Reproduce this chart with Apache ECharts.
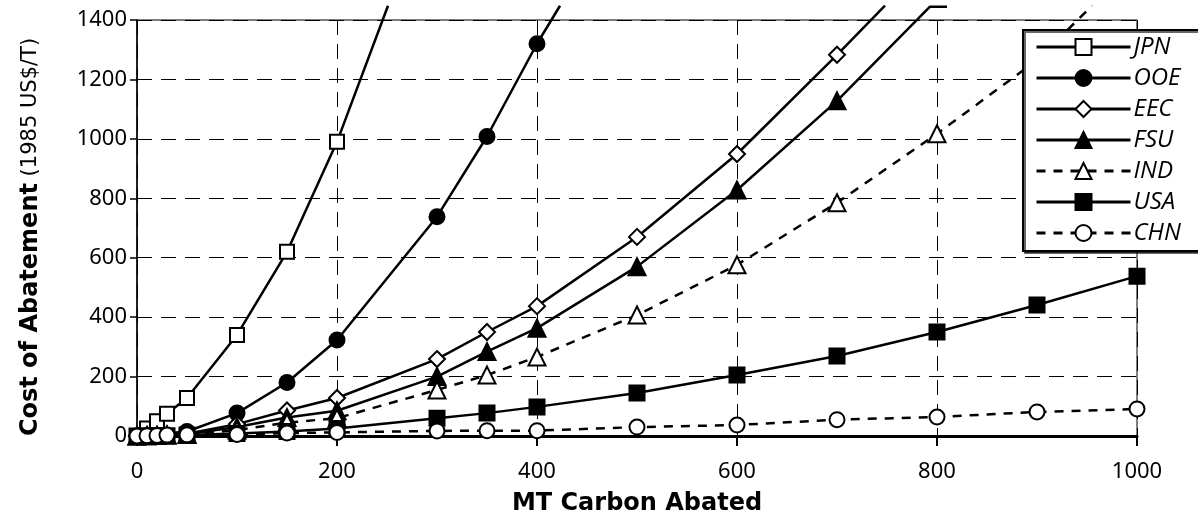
<!DOCTYPE html>
<html>
<head>
<meta charset="utf-8">
<title>Cost of Abatement</title>
<script src="https://cdn.jsdelivr.net/npm/echarts@6/dist/echarts.min.js"></script>
<style>
    html,body{margin:0;padding:0;background:#fff;}
    #main{width:1198px;height:529px;}
</style>
</head>
<body>
<div id="main"></div>
<script>
//data (points above 1400 are where a line leaves the top)
var names=['JPN','OOE','EEC','FSU','IND','USA','CHN'];
var xTicks=[0,200,400,600,800,1000];
var yTicks=[0,200,400,600,800,1000,1200,1400];

var jpnX=[0,10,20,30,50,100,150,200,251];
var jpnY=[0,25,50,75,128,340,620,990,1448];
var ooeX=[0,50,100,150,200,300,350,400,423];
var ooeY=[0,15,77,180,323,738,1008,1320,1448];
var eecX=[0,10,20,30,50,100,150,200,300,350,400,500,600,700,748];
var eecY=[0,1,2,3,8,40,86,128,259,350,437,670,949,1283,1448];
var fsuX=[0,10,20,30,50,100,150,200,300,350,400,500,600,700,793,810];
var fsuY=[0,1,2,3,6,30,62,85,200,284,363,570,828,1128,1445,1445];
var indX=[0,10,20,30,50,100,150,200,300,350,400,500,600,700,800,900,955];
var indY=[0,1,2,3,5,20,45,60,155,205,266,407,576,785,1017,1265,1448];
var usaX=[0,10,20,30,50,100,150,200,300,350,400,500,600,700,800,900,1000];
var usaY=[0,0,1,1,3,8,15,25,60,77,98,145,205,269,350,441,538];
var chnX=[0,10,20,30,50,100,150,200,300,350,400,500,600,700,800,900,1000];
var chnY=[0,1,2,3,4,5,10,12,17,18,18,30,37,55,64,81,91];

//pair up x/y, no marker for off-chart points
function pts(xs,ys){
    var out=[];
    for(var i=0;i<xs.length;i++){
        if(ys[i]>yTicks[yTicks.length-1]){
            out.push({value:[xs[i],ys[i]],symbol:'none'});
        }else{
            out.push([xs[i],ys[i]]);
        }
    }
    return out;
}

function mkSeries(name,xs,ys,symbol,size,fill,dashed){
    return {
        name:name,
        type:'line',
        clip:false,
        data:pts(xs,ys),
        symbol:symbol,
        symbolSize:size,
        showAllSymbol:true,
        lineStyle:{color:'#000',width:2.5,type:dashed?[9,8]:'solid'},
        itemStyle:{color:fill,borderColor:'#000',borderWidth:2},
        emphasis:{disabled:true}
    };
}

var myChart=echarts.init(document.getElementById('main'));
var option={
    backgroundColor:'#fff',
    animation:false,
    grid:{left:137,right:61,top:20,bottom:93,show:true,borderColor:'#000',borderWidth:1},
    legend:{
        orient:'vertical',
        left:1023,
        top:30,
        padding:[5,20,6,12],
        itemWidth:94,
        itemHeight:20,
        itemGap:7,
        backgroundColor:'#fff',
        borderColor:'#000',
        borderWidth:2,
        shadowColor:'rgba(0,0,0,0.6)',
        shadowOffsetX:2,
        shadowOffsetY:2,
        shadowBlur:0,
        lineStyle:{width:3},
        data:names,
        textStyle:{fontFamily:'Open Sans',fontStyle:'italic',fontSize:24,lineHeight:24,color:'#000',padding:[0,0,0,-2]}
    },
    xAxis:{
        type:'value',
        min:xTicks[0],
        max:xTicks[xTicks.length-1],
        interval:200,
        name:'MT Carbon Abated',
        nameLocation:'middle',
        nameGap:56,
        nameTextStyle:{fontFamily:'DejaVu Sans',fontWeight:'bold',fontSize:24,color:'#000'},
        axisLine:{show:true,lineStyle:{color:'#000',width:3}},
        axisTick:{show:true,length:10,lineStyle:{color:'#000',width:2}},
        axisLabel:{color:'#000',fontFamily:'Noto Sans',fontSize:22,margin:25,formatter:function(v){return String(v);}},
        splitLine:{show:true,lineStyle:{color:'#000',width:1,type:[15,9]}}
    },
    yAxis:{
        type:'value',
        min:yTicks[0],
        max:yTicks[yTicks.length-1],
        interval:200,
        name:'{b|Cost of Abatement}\u00a0\u00a0{n|(1985 US$/T)}',
        nameLocation:'middle',
        nameGap:94,
        nameTextStyle:{
            padding:[0,18,0,0],
            rich:{
                b:{fontFamily:'DejaVu Sans',fontWeight:'bold',fontSize:24,color:'#000'},
                n:{fontFamily:'DejaVu Sans',fontSize:21,color:'#000'}
            }
        },
        axisLine:{show:true,lineStyle:{color:'#000',width:1.5}},
        axisTick:{show:true,length:7,lineStyle:{color:'#000',width:1.5}},
        axisLabel:{color:'#000',fontFamily:'Noto Sans',fontSize:22,margin:10,formatter:function(v){return String(v);}},
        splitLine:{show:true,lineStyle:{color:'#000',width:1,type:[15,9]}}
    },
    series:[
        mkSeries('JPN',jpnX,jpnY,'rect',14,'#fff',false),
        mkSeries('OOE',ooeX,ooeY,'circle',15,'#000',false),
        mkSeries('EEC',eecX,eecY,'diamond',16,'#fff',false),
        mkSeries('FSU',fsuX,fsuY,'triangle',17,'#000',false),
        mkSeries('IND',indX,indY,'triangle',17,'#fff',true),
        mkSeries('USA',usaX,usaY,'rect',15,'#000',false),
        mkSeries('CHN',chnX,chnY,'circle',15,'#fff',true)
    ]
};
myChart.setOption(option);
</script>
</body>
</html>
